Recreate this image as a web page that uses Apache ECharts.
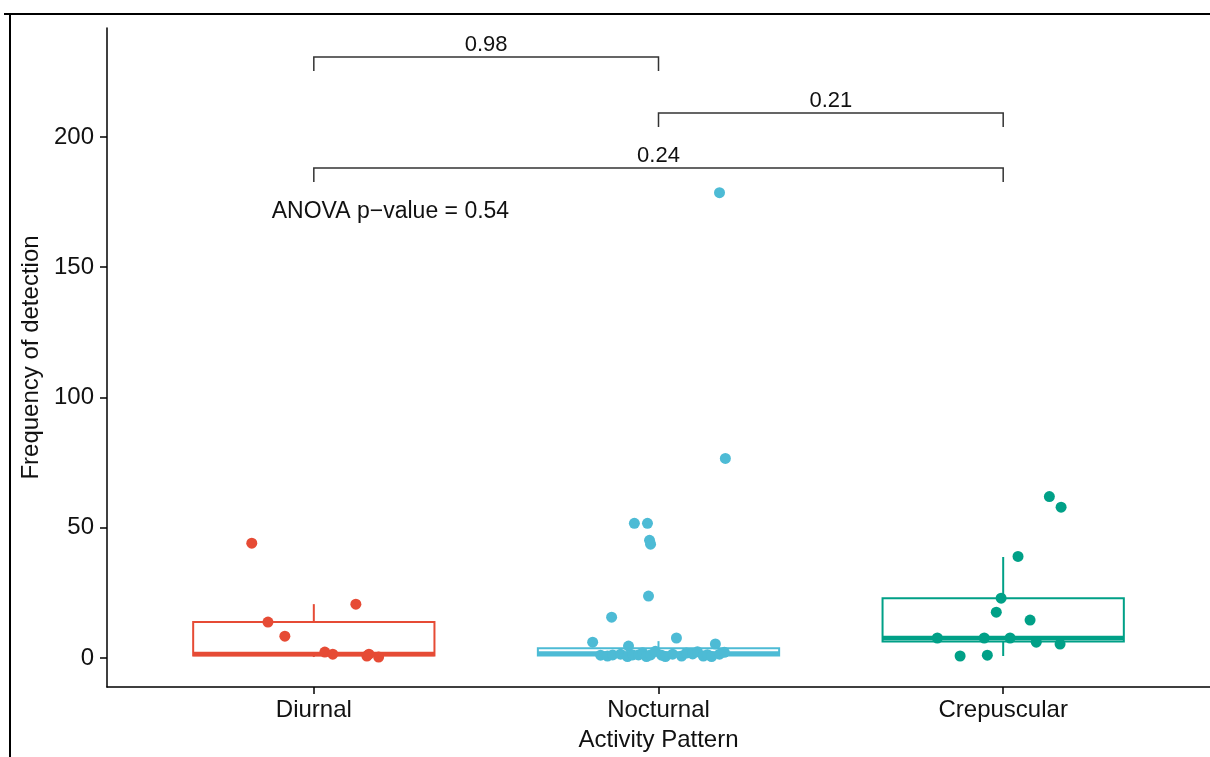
<!DOCTYPE html>
<html>
<head>
<meta charset="utf-8">
<script src="https://cdn.jsdelivr.net/npm/echarts@6/dist/echarts.min.js"></script>
<style>
  html, body { margin: 0; padding: 0; background: #fff; }
  #chart { width: 1210px; height: 757px; }
</style>
</head>
<body>
<div id="chart"></div>
<script>
var categories = ['Diurnal', 'Nocturnal', 'Crepuscular']
var colors = ['#E64B35', '#4DBBD5', '#00A087']

// box stats: [min, Q1, median, Q3, max]
var diurnalBox = [0.4, 1.0, 1.6, 13.8, 20.7]
var nocturnalBox = [0.2, 1.0, 1.8, 3.8, 6.5]
var crepuscularBox = [0.8, 6.4, 7.7, 23.0, 38.8]

// jittered points: offset from the category centre, and value
var diurnalJitter = [-0.18, -0.133, -0.084, 0.032, 0.055, 0.122, 0.154, 0.16, 0.188]
var diurnalValues = [44.1, 13.8, 8.4, 2.3, 1.5, 20.7, 0.8, 1.5, 0.4]

var nocturnalJitter = [0.177, 0.194, -0.07, -0.032, -0.026, -0.023, -0.029, -0.136, -0.191, -0.087, 0.052, 0.165,
  -0.168, -0.148, -0.133, -0.110, -0.090, -0.075, -0.058, -0.046, -0.035, -0.023, -0.009, 0.009,
  0.020, 0.041, 0.067, 0.081, 0.099, 0.113, 0.130, 0.142, 0.154, 0.177, 0.191]
var nocturnalValues = [178.6, 76.6, 51.7, 51.7, 45.2, 43.7, 23.8, 15.7, 6.1, 4.6, 7.7, 5.4,
  1.1, 0.8, 1.2, 1.5, 0.6, 1.2, 1.2, 2.0, 0.6, 1.2, 2.6, 1.1,
  0.6, 1.5, 0.8, 1.9, 1.6, 2.4, 0.8, 1.3, 0.6, 1.5, 2.2]

var crepuscularJitter = [0.134, 0.168, 0.043, -0.006, -0.020, 0.078, -0.191, -0.055, 0.020, 0.096, 0.165, -0.125, -0.046]
var crepuscularValues = [62.0, 57.9, 39.0, 23.0, 17.6, 14.6, 7.7, 7.7, 7.7, 6.1, 5.4, 0.8, 1.1]

// pairwise comparison brackets
var bracketFrom = [1, 2, 1]
var bracketTo = [2, 3, 3]
var bracketY = [230.7, 209.2, 188.1]
var bracketLabels = ['0.98', '0.21', '0.24']

var anovaText = 'ANOVA p\u2212value = 0.54'
var anovaPos = [0.878, 171.3]

var FONT = '"Liberation Sans", Arial, sans-serif'

function points (idx, jitter, values) {
  var out = []
  for (let i = 0; i < values.length; i++) {
    out.push([idx + jitter[i], values[i]])
  }
  return out
}

function renderBox (params, api) {
  var c = api.value(0)
  var col = colors[c - 1]
  var lo = api.coord([c - 0.35, api.value(2)])
  var hi = api.coord([c + 0.35, api.value(4)])
  var mid = api.coord([c, api.value(3)])
  var wmin = api.coord([c, api.value(1)])
  var wmax = api.coord([c, api.value(5)])
  return {
    type: 'group',
    children: [
      { type: 'line', shape: { x1: mid[0], y1: wmax[1], x2: mid[0], y2: hi[1] }, style: { stroke: col, lineWidth: 2 } },
      { type: 'line', shape: { x1: mid[0], y1: wmin[1], x2: mid[0], y2: lo[1] }, style: { stroke: col, lineWidth: 2 } },
      { type: 'rect', shape: { x: lo[0], y: hi[1], width: hi[0] - lo[0], height: lo[1] - hi[1] }, style: { fill: '#fff', stroke: col, lineWidth: 2 } },
      { type: 'line', shape: { x1: lo[0], y1: mid[1], x2: hi[0], y2: mid[1] }, style: { stroke: col, lineWidth: 4.5 } }
    ]
  }
}

function renderBracket (params, api) {
  var a = api.coord([api.value(0), api.value(2)])
  var b = api.coord([api.value(1), api.value(2)])
  var tick = 14
  return {
    type: 'group',
    children: [
      { type: 'polyline', shape: { points: [[a[0], a[1] + tick], a, b, [b[0], b[1] + tick]] }, style: { stroke: '#333', lineWidth: 1.5, fill: null } },
      { type: 'text', style: { x: (a[0] + b[0]) / 2, y: a[1] - 12, text: bracketLabels[params.dataIndex], align: 'center', verticalAlign: 'middle', fill: '#111', font: '22px ' + FONT } }
    ]
  }
}

function renderText (params, api) {
  var p = api.coord([api.value(0), api.value(1)])
  return { type: 'text', style: { x: p[0], y: p[1], text: anovaText, align: 'left', verticalAlign: 'middle', fill: '#111', font: '23px ' + FONT } }
}

var boxData = [[1].concat(diurnalBox), [2].concat(nocturnalBox), [3].concat(crepuscularBox)]
var bracketData = []
for (let i = 0; i < bracketFrom.length; i++) {
  bracketData.push([bracketFrom[i], bracketTo[i], bracketY[i]])
}

var chart = echarts.init(document.getElementById('chart'))
chart.setOption({
  animation: false,
  backgroundColor: '#fff',
  graphic: [
    { type: 'line', shape: { x1: 4, y1: 14, x2: 1210, y2: 14 }, style: { stroke: '#000', lineWidth: 2 } },
    { type: 'line', shape: { x1: 10, y1: 13, x2: 10, y2: 757 }, style: { stroke: '#000', lineWidth: 2 } }
  ],
  grid: { left: 107, right: 0, top: 28, bottom: 69 },
  xAxis: {
    type: 'value',
    min: 0.4,
    max: 3.6,
    name: 'Activity Pattern',
    nameLocation: 'middle',
    nameGap: 41,
    nameTextStyle: { fontFamily: FONT, fontSize: 24, color: '#111' },
    splitLine: { show: false },
    axisLine: { onZero: false, lineStyle: { color: '#000', width: 1.5 } },
    axisTick: { length: 7, customValues: [1, 2, 3], lineStyle: { color: '#000', width: 1.5 } },
    axisLabel: {
      customValues: [1, 2, 3],
      margin: 11,
      fontFamily: FONT,
      fontSize: 24,
      color: '#111',
      formatter: function (v) { return categories[Math.round(v) - 1] }
    }
  },
  yAxis: {
    type: 'value',
    min: -11.1,
    max: 241.8,
    name: 'Frequency of detection',
    nameLocation: 'middle',
    nameGap: 56,
    nameTextStyle: { fontFamily: FONT, fontSize: 24, color: '#111' },
    splitLine: { show: false },
    axisLine: { show: true, onZero: false, lineStyle: { color: '#000', width: 1.5 } },
    axisTick: { show: true, length: 7, customValues: [0, 50, 100, 150, 200], lineStyle: { color: '#000', width: 1.5 } },
    axisLabel: { customValues: [0, 50, 100, 150, 200], margin: 13, fontFamily: FONT, fontSize: 24, color: '#111' }
  },
  series: [
    { type: 'custom', renderItem: renderBox, data: boxData, encode: { x: 0, y: [1, 2, 3, 4, 5] }, z: 2 },
    { type: 'scatter', data: points(1, diurnalJitter, diurnalValues), symbolSize: 11, itemStyle: { color: colors[0], opacity: 1 }, z: 3 },
    { type: 'scatter', data: points(2, nocturnalJitter, nocturnalValues), symbolSize: 11, itemStyle: { color: colors[1], opacity: 1 }, z: 3 },
    { type: 'scatter', data: points(3, crepuscularJitter, crepuscularValues), symbolSize: 11, itemStyle: { color: colors[2], opacity: 1 }, z: 3 },
    { type: 'custom', renderItem: renderBracket, data: bracketData, encode: { x: [0, 1], y: 2 }, z: 4 },
    { type: 'custom', renderItem: renderText, data: [anovaPos], encode: { x: 0, y: 1 }, z: 4 }
  ]
})
</script>
</body>
</html>
